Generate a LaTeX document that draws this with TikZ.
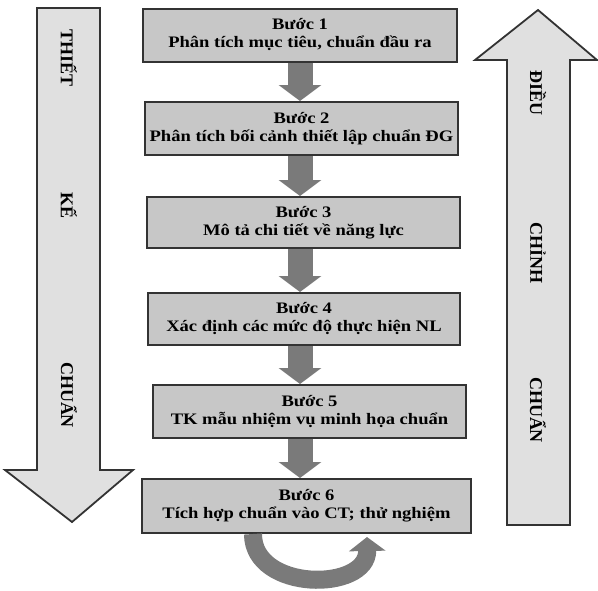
\documentclass[tikz,border=0pt]{standalone}
\usepackage{fontspec}
\setmainfont{Liberation Serif}
\newfontfamily\stepfont[FakeStretch=1.16]{Liberation Serif}
\usetikzlibrary{arrows.meta}

\begin{document}
\begin{tikzpicture}[x=1pt,y=-1pt]
\tikzstyle{stepbox}=[draw=black!80,line width=2pt,fill=black!22,align=center,inner sep=0pt,minimum height=53pt,font=\stepfont\fontsize{16}{18}\selectfont\bfseries]
\tikzstyle{bigarrow}=[draw=black!80,line width=1.8pt,fill=black!12]
\tikzstyle{downarrow}=[draw=black!52,line width=25pt,-{Triangle[width=42pt,length=16pt]}]
\tikzstyle{sidetext}=[rotate=-90,font=\fontsize{18}{18}\selectfont\bfseries]
\useasboundingbox (0,0) rectangle (598,590);
% two big arrows at the sides
\draw [bigarrow] (37,8) -- (100,8) -- (100,470) -- (133,470) -- (72,522) -- (5,470) -- (37,470) -- cycle;
\draw [bigarrow] (507,525) -- (570,525) -- (570,60) -- (597,60) -- (538,10) -- (475,60) -- (507,60) -- cycle;
\node [sidetext] (t1) at (69,58) {THIẾT};
\node [sidetext] (t2) at (69,205) {KẾ};
\node [sidetext] (t3) at (69,395) {CHUẨN};
\node [sidetext] (d1) at (538,93) {ĐIỀU};
\node [sidetext] (d2) at (538,253) {CHỈNH};
\node [sidetext] (d3) at (538,410) {CHUẨN};
% the six steps
\node [stepbox,minimum width=314pt] (b1) at (300,35) {Bước 1\\Phân tích mục tiêu, chuẩn đầu ra};
\node [stepbox,minimum width=313pt] (b2) at (301.5,128.5) {Bước 2\\Phân tích bối cảnh thiết lập chuẩn ĐG};
\node [stepbox,minimum width=313pt,minimum height=51pt] (b3) at (303.5,222.5) {Bước 3\\Mô tả chi tiết về năng lực};
\node [stepbox,minimum width=312pt,minimum height=52pt] (b4) at (304,319) {Bước 4\\Xác định các mức độ thực hiện NL};
\node [stepbox,minimum width=313pt] (b5) at (309.5,411.5) {Bước 5\\TK mẫu nhiệm vụ minh họa chuẩn};
\node [stepbox,minimum width=329pt,minimum height=54pt] (b6) at (306.5,506) {Bước 6\\Tích hợp chuẩn vào CT; thử nghiệm};
\draw [downarrow] (b1.south -| 300,0) -- (b2.north -| 300,0);
\draw [downarrow] (b2.south -| 300,0) -- (b3.north -| 300,0);
\draw [downarrow] (b3.south -| 300,0) -- (b4.north -| 300,0);
\draw [downarrow] (b4.south -| 300,0) -- (b5.north -| 300,0);
\draw [downarrow] (b5.south -| 300,0) -- (b6.north -| 300,0);
% loop back arrow under step 6
\coordinate (e) at (367,537);
\draw [draw=black!52,line width=18pt,-{Triangle[width=36pt,length=14pt]}] ([xshift=-53.5pt]b6.south) .. controls (253,592) and (368,592) .. (e);
\end{tikzpicture}
\end{document}
